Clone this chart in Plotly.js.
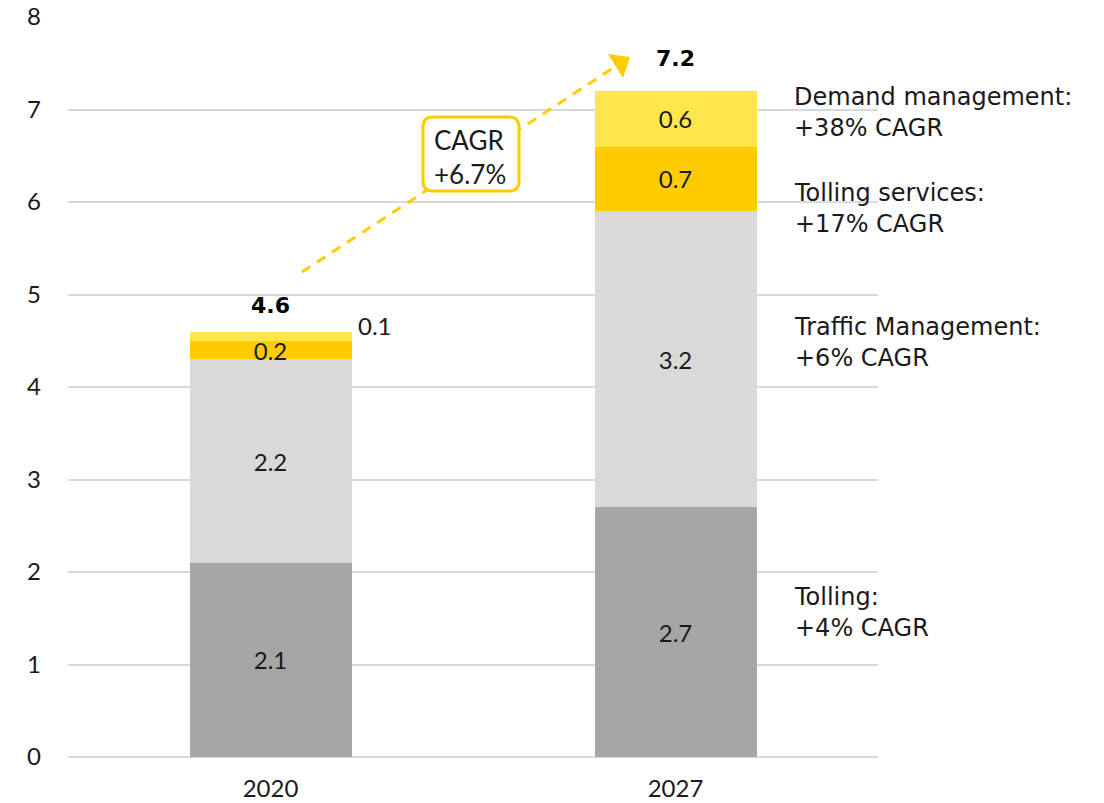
<!DOCTYPE html>
<html>
<head>
<meta charset="utf-8">
<script src="https://cdn.plot.ly/plotly-3.0.1.min.js"></script>
<style>
  html, body { margin: 0; padding: 0; background: #fff; }
  #chart { width: 1104px; height: 803px; }
</style>
</head>
<body>
<div id="chart"></div>
<script>
const years = ['2020', '2027'];
const tolling = [2.1, 2.7];
const trafficMgmt = [2.2, 3.2];
const tollingServices = [0.2, 0.7];
const demandMgmt = [0.1, 0.6];
const totals = [4.6, 7.2];
const cagrText = 'CAGR<br>+6.7%';
const segmentNotes = [
  ['Demand management:', '+38% CAGR', 6.97],
  ['Tolling services:', '+17% CAGR', 5.93],
  ['Traffic Management:', '+6% CAGR', 4.48],
  ['Tolling:', '+4% CAGR', 1.56]
];

const FONT = 'Lato, "Noto Sans", sans-serif';
const NOTE_FONT = '"DejaVu Sans", Lato, sans-serif';

function barTrace(vals, color, labels) {
  return {
    x: years,
    y: vals,
    type: 'bar',
    width: 0.4,
    marker: { color: color, line: { width: 0 } },
    text: labels,
    textposition: 'inside',
    insidetextanchor: 'middle',
    constraintext: 'none',
    textfont: { family: FONT, size: 24, color: '#1a1a1a' },
    hoverinfo: 'skip'
  };
}

const fmt = v => v.toFixed(1);

const data = [
  barTrace(tolling, '#a6a6a6', tolling.map(fmt)),
  barTrace(trafficMgmt, '#d9d9d9', trafficMgmt.map(fmt)),
  barTrace(tollingServices, '#ffcc00', tollingServices.map(fmt)),
  // small 2020 segment gets its label outside the bar
  barTrace(demandMgmt, '#ffe64d', demandMgmt.map((v, i) => i === 0 ? '' : fmt(v)))
];

const annotations = [];

// totals above bars
const totalShift = [26, 33];
totals.forEach((t, i) => {
  annotations.push({
    x: i, y: t, xref: 'x', yref: 'y',
    text: '<b>' + fmt(t) + '</b>',
    showarrow: false, yshift: totalShift[i],
    font: { family: NOTE_FONT, size: 22, color: '#000' }
  });
});

// 0.1 label to the right of the 2020 bar
annotations.push({
  x: 0, y: totals[0], xref: 'x', yref: 'y',
  text: fmt(demandMgmt[0]),
  showarrow: false, xshift: 104, yshift: 6,
  font: { family: FONT, size: 24, color: '#1a1a1a' }
});

// segment notes on the right
segmentNotes.forEach(n => {
  annotations.push({
    x: 0.894, xref: 'paper', y: n[2], yref: 'y',
    xanchor: 'left', align: 'left',
    text: n[0] + '<br>' + n[1],
    showarrow: false,
    font: { family: NOTE_FONT, size: 24, color: '#1a1a1a' }
  });
});

// CAGR label
annotations.push({
  x: 0.4926, y: 6.49, xref: 'x', yref: 'y',
  text: cagrText, align: 'left', showarrow: false,
  font: { family: FONT, size: 26, color: '#1a1a1a' }
});

// paper coordinate helpers (plot area 68..878 x, 17..757 y)
const px = p => (p - 68) / 810;
const py = p => (757 - p) / 740;

function roundRect(x0, y0, x1, y1, r) {
  const rx = r / 810, ry = r / 740;
  const X0 = px(x0), X1 = px(x1), Y0 = py(y0), Y1 = py(y1);
  return 'M' + (X0 + rx) + ',' + Y0 +
    ' L' + (X1 - rx) + ',' + Y0 +
    ' Q' + X1 + ',' + Y0 + ' ' + X1 + ',' + (Y0 - ry) +
    ' L' + X1 + ',' + (Y1 + ry) +
    ' Q' + X1 + ',' + Y1 + ' ' + (X1 - rx) + ',' + Y1 +
    ' L' + (X0 + rx) + ',' + Y1 +
    ' Q' + X0 + ',' + Y1 + ' ' + X0 + ',' + (Y1 + ry) +
    ' L' + X0 + ',' + (Y0 - ry) +
    ' Q' + X0 + ',' + Y0 + ' ' + (X0 + rx) + ',' + Y0 + ' Z';
}

const shapes = [
  {
    type: 'line', xref: 'paper', yref: 'paper',
    x0: px(302), y0: py(272), x1: px(616), y1: py(66),
    line: { color: '#ffcc00', width: 3, dash: '10px,8px' }
  },
  {
    type: 'path', xref: 'paper', yref: 'paper',
    path: 'M' + px(630) + ',' + py(57) + ' L' + px(608) + ',' + py(54) +
      ' L' + px(623) + ',' + py(78) + ' Z',
    fillcolor: '#ffcc00', line: { width: 0 }
  },
  {
    type: 'path', xref: 'paper', yref: 'paper',
    path: roundRect(423, 117, 519, 191, 10),
    fillcolor: '#ffffff', line: { color: '#ffcc00', width: 3 }
  }
];

const layout = {
  width: 1104,
  height: 803,
  margin: { l: 68, r: 226, t: 17, b: 46 },
  paper_bgcolor: '#ffffff',
  plot_bgcolor: '#ffffff',
  barmode: 'stack',
  showlegend: false,
  font: { family: FONT, size: 24, color: '#1a1a1a' },
  xaxis: {
    type: 'category',
    range: [-0.5, 1.5],
    showgrid: false,
    showline: false,
    ticks: '',
    ticklabelstandoff: 15,
    tickfont: { family: FONT, size: 24, color: '#1a1a1a' }
  },
  yaxis: {
    range: [0, 8],
    dtick: 1,
    showgrid: true,
    gridcolor: '#d9d9d9',
    gridwidth: 2,
    zeroline: true,
    zerolinecolor: '#d9d9d9',
    zerolinewidth: 2,
    showline: false,
    ticks: '',
    ticklabelstandoff: 26,
    tickfont: { family: FONT, size: 24, color: '#1a1a1a' }
  },
  annotations: annotations,
  shapes: shapes
};

Plotly.newPlot('chart', data, layout, { staticPlot: true, displayModeBar: false });
</script>
</body>
</html>
